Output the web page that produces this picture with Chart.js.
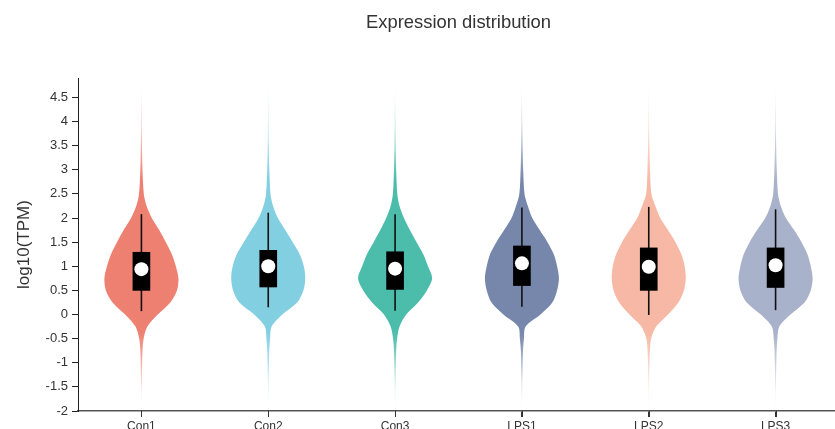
<!DOCTYPE html>
<html lang="en">
<head>
<meta charset="UTF-8">
<title>Expression distribution</title>
<script src="https://cdn.jsdelivr.net/npm/chart.js"></script>
<style>
  html, body { margin: 0; padding: 0; overflow: hidden; background: #fff; }
  #wrap { width: 846px; height: 429px; }
</style>
</head>
<body>
<div id="wrap"><canvas id="violinChart"></canvas></div>
<script>
// samples on the x axis
const samples = ['Con1', 'Con2', 'Con3', 'LPS1', 'LPS2', 'LPS3'];
const fillColors = [[230, 75, 53], [77, 187, 213], [0, 160, 135], [60, 84, 136], [243, 155, 127], [132, 145, 180]];

const levels = [-2, -1.5, -1, -0.75, -0.5, -0.25, 0, 0.25, 0.5, 0.75, 1, 1.25, 1.5, 1.75, 2, 2.25, 2.5, 3, 3.5, 4, 4.8];
// relative density at each level (widest point = 1)
const densCon1 = [0, 0.008, 0.02, 0.03, 0.06, 0.16, 0.44, 0.78, 0.96, 1.0, 0.93, 0.82, 0.66, 0.48, 0.28, 0.14, 0.065, 0.03, 0.015, 0.008, 0];
const densCon2 = [0, 0.008, 0.02, 0.028, 0.05, 0.09, 0.38, 0.78, 0.95, 1.0, 0.96, 0.85, 0.66, 0.46, 0.26, 0.13, 0.06, 0.03, 0.015, 0.008, 0];
const densCon3 = [0, 0.008, 0.02, 0.03, 0.055, 0.12, 0.30, 0.62, 0.86, 1.0, 0.89, 0.76, 0.58, 0.40, 0.24, 0.12, 0.06, 0.03, 0.015, 0.008, 0];
const densLPS1 = [0, 0.008, 0.02, 0.028, 0.055, 0.10, 0.50, 0.82, 0.95, 1.0, 0.95, 0.86, 0.69, 0.48, 0.28, 0.16, 0.07, 0.035, 0.018, 0.009, 0];
const densLPS2 = [0, 0.008, 0.02, 0.032, 0.065, 0.20, 0.52, 0.80, 0.95, 1.0, 0.97, 0.88, 0.72, 0.52, 0.31, 0.18, 0.07, 0.035, 0.018, 0.009, 0];
const densLPS3 = [0, 0.008, 0.02, 0.028, 0.05, 0.10, 0.40, 0.78, 0.95, 1.0, 0.95, 0.86, 0.70, 0.50, 0.28, 0.14, 0.065, 0.032, 0.016, 0.008, 0];
const densities = [densCon1, densCon2, densCon3, densLPS1, densLPS2, densLPS3];

// box plot stats
const q1 = [0.5, 0.57, 0.52, 0.6, 0.5, 0.56];
const q3 = [1.29, 1.33, 1.3, 1.42, 1.38, 1.38];
const medians = [0.94, 1.0, 0.95, 1.06, 0.99, 1.02];
const whiskerLow = [0.07, 0.15, 0.08, 0.16, -0.01, 0.09];
const whiskerHigh = [2.08, 2.11, 2.08, 2.22, 2.23, 2.18];

const yTicks = [-2, -1.5, -1, -0.5, 0, 0.5, 1, 1.5, 2, 2.5, 3, 3.5, 4, 4.5];

const halfWidth = 0.292;   // widest violin half-width, in category units
const yMin = -2, yMax = 4.9;

function violinFill(i) {
  const [r, g, b] = fillColors[i];
  return function (ctx) {
    const chart = ctx.chart;
    const ys = chart.scales.y;
    if (!chart.chartArea || !ys) return `rgba(${r},${g},${b},0.7)`;
    const top = ys.getPixelForValue(levels[levels.length - 1]);
    const bot = ys.getPixelForValue(levels[0]);
    const grad = chart.ctx.createLinearGradient(0, top, 0, bot);
    grad.addColorStop(0, `rgba(${r},${g},${b},0)`);
    grad.addColorStop(0.3, `rgba(${r},${g},${b},0.7)`);
    grad.addColorStop(0.76, `rgba(${r},${g},${b},0.7)`);
    grad.addColorStop(1, `rgba(${r},${g},${b},0)`);
    return grad;
  };
}

const datasets = [];

samples.forEach((name, i) => {
  const dens = densities[i];
  const left = levels.map((y, k) => ({ x: i - dens[k] * halfWidth, y: y }));
  const right = [];
  for (let k = levels.length - 2; k > 0; k--) {
    right.push({ x: i + dens[k] * halfWidth, y: levels[k] });
  }
  datasets.push({
    type: 'line',
    label: name,
    data: left.concat(right),
    fill: 'shape',
    backgroundColor: violinFill(i),
    borderWidth: 0,
    pointRadius: 0,
    tension: 0.3,
    order: 4
  });
  datasets.push({
    type: 'line',
    label: name + ' whisker',
    data: [{ x: i, y: whiskerLow[i] }, { x: i, y: whiskerHigh[i] }],
    borderColor: '#111',
    borderWidth: 1.6,
    pointRadius: 0,
    fill: false,
    order: 3
  });
});

datasets.push({
  type: 'bar',
  label: 'IQR',
  data: samples.map((s, i) => ({ x: i, y: [q1[i], q3[i]] })),
  backgroundColor: '#000',
  barThickness: 17,
  order: 2
});

datasets.push({
  type: 'scatter',
  label: 'median',
  data: samples.map((s, i) => ({ x: i, y: medians[i] })),
  pointRadius: 7,
  pointBackgroundColor: '#fff',
  pointBorderWidth: 0,
  order: 1
});

// small tick marks under the x axis, one per sample
const categoryTicks = {
  id: 'categoryTicks',
  afterDraw(chart) {
    const xs = chart.scales.x;
    const ctx = chart.ctx;
    ctx.save();
    ctx.strokeStyle = '#333';
    ctx.lineWidth = 1;
    samples.forEach((s, i) => {
      const px = Math.round(xs.getPixelForValue(i)) + 0.5;
      ctx.beginPath();
      ctx.moveTo(px, xs.top);
      ctx.lineTo(px, xs.top + 6);
      ctx.stroke();
    });
    ctx.restore();
  }
};

const fontFam = "Arial, 'Liberation Sans', sans-serif";

new Chart(document.getElementById('violinChart'), {
  type: 'scatter',
  data: { datasets: datasets },
  plugins: [categoryTicks],
  options: {
    responsive: true,
    maintainAspectRatio: false,
    animation: false,
    events: [],
    layout: { padding: 0 },
    plugins: {
      legend: { display: false },
      tooltip: { enabled: false },
      title: {
        display: true,
        text: 'Expression distribution',
        fullSize: false,
        color: '#333',
        font: { family: fontFam, size: 18.4, weight: 'normal' },
        padding: { top: 12, bottom: 44 }
      }
    },
    scales: {
      x: {
        type: 'linear',
        min: -0.5,
        max: 5.5,
        offset: false,
        afterBuildTicks: scale => { scale.ticks = samples.map((s, i) => ({ value: i })); },
        afterFit: scale => { scale.height = 18; },
        ticks: {
          color: '#333',
          padding: 2,
          font: { family: fontFam, size: 12 },
          callback: v => samples[v]
        },
        grid: { display: true, offset: false, drawOnChartArea: false, drawTicks: true, tickLength: 6, tickColor: '#333', tickWidth: 1 },
        border: { display: true, color: '#555', width: 1.5 }
      },
      y: {
        type: 'linear',
        min: yMin,
        max: yMax,
        afterBuildTicks: scale => { scale.ticks = yTicks.map(v => ({ value: v })); },
        afterFit: scale => { scale.width = 78; },
        ticks: {
          color: '#333',
          padding: 4,
          font: { family: fontFam, size: 13 },
          callback: v => String(v)
        },
        title: {
          display: true,
          text: 'log10(TPM)',
          color: '#333',
          font: { family: fontFam, size: 17 },
          padding: { top: 14, bottom: 0 }
        },
        grid: { drawOnChartArea: false, drawTicks: true, tickLength: 6, tickColor: '#222', tickWidth: 1 },
        border: { display: true, color: '#222', width: 1 }
      }
    }
  }
});
</script>
</body>
</html>
